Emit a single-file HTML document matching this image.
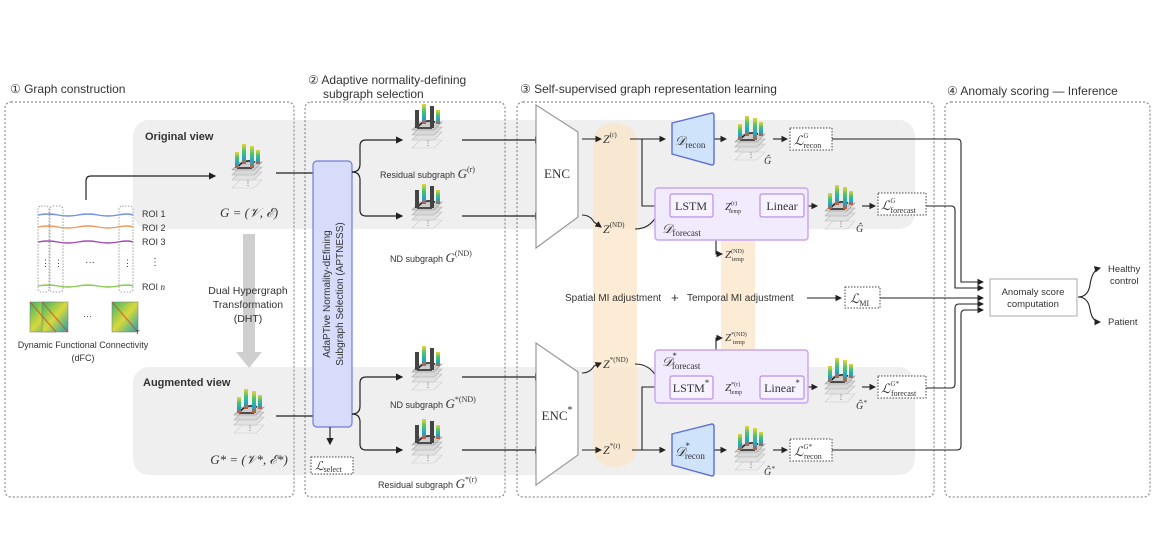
<!DOCTYPE html>
<html><head><meta charset="utf-8"><style>
html,body{margin:0;padding:0;background:#fff}
svg{display:block}
text{font-family:"Liberation Sans",sans-serif;fill:#333}
.s{font-family:"Liberation Serif",serif}
.i{font-family:"Liberation Serif",serif;font-style:italic}
</style></head><body>
<svg width="1155" height="558" viewBox="0 0 1155 558" xmlns="http://www.w3.org/2000/svg">
<defs>
<marker id="a" markerWidth="6" markerHeight="6" refX="5" refY="3" orient="auto"><path d="M0,0 L6,3 L0,6z" fill="#222"/></marker>
<linearGradient id="bar" x1="0" y1="0" x2="0" y2="1"><stop offset="0" stop-color="#e6d33a"/><stop offset=".35" stop-color="#4fc26b"/><stop offset=".7" stop-color="#1fa7c9"/><stop offset="1" stop-color="#d0562a"/></linearGradient>
<linearGradient id="mat" x1="0" y1="0" x2="1" y2="1"><stop offset="0" stop-color="#3bb56a"/><stop offset=".5" stop-color="#d9d83a"/><stop offset="1" stop-color="#1fa0b5"/></linearGradient>
<g id="gi">
<polygon points="4,30 26,30 34,22 12,22" fill="#eee" stroke="#ccc" stroke-width=".6" transform="translate(0,18)"/>
<polygon points="4,30 26,30 34,22 12,22" fill="#e2e2e2" stroke="#bbb" stroke-width=".6" transform="translate(0,10)"/>
<polygon points="4,30 26,30 34,22 12,22" fill="#d8d8d8" stroke="#aaa" stroke-width=".6" transform="translate(0,5)"/>
<polygon points="4,30 26,30 34,22 12,22" fill="#ccc" stroke="#999" stroke-width=".6"/>
<path d="M9,28 Q16,18 27,22 M9,28 L24,28" stroke="#222" stroke-width="1.5" fill="none"/>
<rect x="7" y="12" width="4" height="16" fill="url(#bar)"/>
<rect x="14" y="4" width="4" height="20" fill="url(#bar)"/>
<rect x="22" y="6" width="4" height="22" fill="url(#bar)"/>
<rect x="28" y="10" width="4" height="14" fill="url(#bar)"/>
<text x="17" y="45" font-size="6" fill="#666">⋮</text>
</g>
<g id="gk">
<polygon points="4,30 26,30 34,22 12,22" fill="#eee" stroke="#ccc" stroke-width=".6" transform="translate(0,18)"/>
<polygon points="4,30 26,30 34,22 12,22" fill="#e2e2e2" stroke="#bbb" stroke-width=".6" transform="translate(0,10)"/>
<polygon points="4,30 26,30 34,22 12,22" fill="#d8d8d8" stroke="#aaa" stroke-width=".6" transform="translate(0,5)"/>
<polygon points="4,30 26,30 34,22 12,22" fill="#ccc" stroke="#999" stroke-width=".6"/>
<path d="M9,28 Q16,18 27,22 M9,28 L24,28" stroke="#222" stroke-width="1.5" fill="none"/>
<rect x="7" y="10" width="4" height="18" fill="#444"/>
<rect x="14" y="4" width="4" height="20" fill="url(#bar)"/>
<rect x="22" y="6" width="4" height="22" fill="#444"/>
<rect x="28" y="10" width="4" height="14" fill="url(#bar)"/>
<text x="17" y="45" font-size="6" fill="#666">⋮</text>
</g>
</defs>

<!-- gray bands -->
<rect x="133" y="120" width="782" height="109" rx="16" fill="#efefef"/>
<rect x="133" y="367" width="782" height="108" rx="16" fill="#efefef"/>
<!-- orange bands -->
<rect x="593" y="123" width="44" height="344" rx="20" fill="#fbe6c8" opacity=".75"/>
<rect x="721" y="195" width="34" height="208" rx="17" fill="#fbe6c8" opacity=".75"/>

<!-- panels -->
<g fill="none" stroke="#777" stroke-dasharray="2,2" stroke-width="1">
<rect x="5" y="102" width="289" height="395" rx="6"/>
<rect x="305" y="102" width="200" height="395" rx="6"/>
<rect x="517" y="102" width="417" height="395" rx="6"/>
<rect x="945" y="102" width="205" height="395" rx="6"/>
</g>
<text x="10" y="93" font-size="12">① Graph construction</text>
<text x="308" y="84" font-size="12">② Adaptive normality-defining</text>
<text x="323" y="98" font-size="12">subgraph selection</text>
<text x="520" y="93" font-size="12">③ Self-supervised graph representation learning</text>
<text x="947" y="95" font-size="12">④ Anomaly scoring — Inference</text>

<!-- panel 1 -->
<text x="145" y="140" font-size="11" font-weight="bold" fill="#444">Original view</text>
<text x="143" y="386" font-size="11" font-weight="bold" fill="#444">Augmented view</text>
<path d="M86,200 V181 Q86,176 91,176 H215" fill="none" stroke="#222" stroke-width="1.2" marker-end="url(#a)"/>
<g stroke-width="1.4" fill="none">
<path d="M38,215 q10,-2 20,0 t20,0 t20,0 t20,0 t15,0" stroke="#6f8fe0"/>
<path d="M38,227 q10,-2 20,0 t20,0 t20,0 t20,0 t15,0" stroke="#f0995a"/>
<path d="M38,242 q10,-2 20,0 t20,0 t20,0 t20,0 t15,0" stroke="#a24cb0"/>
<path d="M38,286 q10,-2 20,0 t20,0 t20,0 t20,0 t15,0" stroke="#8ac94d"/>
</g>
<g fill="none" stroke="#888" stroke-dasharray="1.5,1.5" stroke-width=".8">
<rect x="38" y="206" width="11" height="86" rx="3"/>
<rect x="50" y="206" width="13" height="86" rx="3"/>
<rect x="119" y="206" width="14" height="86" rx="3"/>
</g>
<text x="142" y="217" font-size="9">ROI 1</text>
<text x="142" y="231" font-size="9">ROI 2</text>
<text x="142" y="245" font-size="9">ROI 3</text>
<text x="142" y="290" font-size="9">ROI <tspan class="i">n</tspan></text>
<text x="150" y="265" font-size="10">⋮</text>
<text x="85" y="265" font-size="10">···</text>
<text x="41" y="266" font-size="9">⋮</text><text x="54" y="266" font-size="9">⋮</text><text x="123" y="266" font-size="9">⋮</text>
<rect x="30" y="302" width="26" height="30" fill="url(#mat)" stroke="#777" stroke-width=".5"/>
<rect x="42" y="302" width="26" height="30" fill="url(#mat)" stroke="#777" stroke-width=".5"/>
<rect x="112" y="302" width="26" height="30" fill="url(#mat)" stroke="#777" stroke-width=".5"/>
<path d="M30,302 L56,332 M42,302 L68,332 M112,302 L138,332" stroke="#d0452a" stroke-width="1.2" opacity=".7"/>
<text x="83" y="319" font-size="9">···</text>
<text x="136" y="334" font-size="6" class="i">T</text>
<text x="83" y="348" font-size="9" text-anchor="middle">Dynamic Functional Connectivity</text>
<text x="83" y="361" font-size="9" text-anchor="middle">(dFC)</text>
<rect x="243" y="234" width="12" height="119" fill="#cfcfcf"/>
<polygon points="236,352 262,352 249,368" fill="#cfcfcf"/>
<text x="248" y="294" font-size="10.5" text-anchor="middle" fill="#444">Dual Hypergraph</text>
<text x="248" y="308" font-size="10.5" text-anchor="middle" fill="#444">Transformation</text>
<text x="248" y="322" font-size="10.5" text-anchor="middle" fill="#444">(DHT)</text>
<use href="#gi" x="228" y="140"/>
<use href="#gi" x="230" y="385"/>
<text x="249" y="217" font-size="13" class="i" text-anchor="middle">G = (𝒱, ℰ)</text>
<text x="249" y="464" font-size="13" class="i" text-anchor="middle">G* = (𝒱*, ℰ*)</text>
<line x1="276" y1="173" x2="313" y2="173" stroke="#222" stroke-width="1.2"/>
<line x1="276" y1="416" x2="313" y2="416" stroke="#222" stroke-width="1.2"/>

<!-- panel 2 -->
<rect x="313" y="161" width="39" height="266" rx="4" fill="#d6dcfa" stroke="#6f7ddc" stroke-width="1.2"/>
<text transform="translate(330,294) rotate(-90)" font-size="10" text-anchor="middle" fill="#333">AdaPTive Normality-dEfining</text>
<text transform="translate(343,294) rotate(-90)" font-size="10" text-anchor="middle" fill="#333">Subgraph Selection (APTNESS)</text>
<g fill="none" stroke="#222" stroke-width="1.2">
<path d="M352,172 Q360,172 360,164 V146 Q360,140 366,140 H402" marker-end="url(#a)"/>
<path d="M352,172 Q360,172 360,180 V210 Q360,216 366,216 H402" marker-end="url(#a)"/>
<path d="M352,414 Q360,414 360,406 V383 Q360,377 366,377 H402" marker-end="url(#a)"/>
<path d="M352,414 Q360,414 360,422 V444 Q360,450 366,450 H402" marker-end="url(#a)"/>
<path d="M330,427 V444" marker-end="url(#a)"/>
<path d="M462,140 H541" marker-end="url(#a)"/>
<path d="M462,216 H541" marker-end="url(#a)"/>
<path d="M462,377 H541" marker-end="url(#a)"/>
<path d="M462,450 H541" marker-end="url(#a)"/>
</g>
<rect x="311" y="457" width="42" height="17" fill="#fff" stroke="#444" stroke-dasharray="1.5,1.5"/>
<text x="315" y="470" font-size="12" class="i">ℒ<tspan font-size="8" font-style="normal" dy="2">select</tspan></text>
<use href="#gk" x="408" y="100"/>
<use href="#gk" x="408" y="180"/>
<use href="#gk" x="408" y="342"/>
<use href="#gk" x="408" y="415"/>
<text x="380" y="178" font-size="9">Residual subgraph <tspan class="i" font-size="13">G</tspan><tspan class="s" font-size="8" dy="-6">(r)</tspan></text>
<text x="390" y="262" font-size="9">ND subgraph <tspan class="i" font-size="13">G</tspan><tspan class="s" font-size="8" dy="-6">(ND)</tspan></text>
<text x="390" y="408" font-size="9">ND subgraph <tspan class="i" font-size="13">G</tspan><tspan class="s" font-size="8" dy="-6">*(ND)</tspan></text>
<text x="378" y="488" font-size="9">Residual subgraph <tspan class="i" font-size="13">G</tspan><tspan class="s" font-size="8" dy="-6">*(r)</tspan></text>

<!-- panel 3: encoders -->
<path d="M536,105 L578,132 V217 L536,248 Z" fill="#fff" stroke="#999" stroke-width="1.2"/>
<path d="M536,343 L578,372 V455 L536,485 Z" fill="#fff" stroke="#999" stroke-width="1.2"/>
<text x="557" y="178" font-size="13" class="s" text-anchor="middle">ENC</text>
<text x="557" y="420" font-size="13" class="s" text-anchor="middle">ENC<tspan font-size="10" dy="-7">*</tspan></text>
<g fill="none" stroke="#222" stroke-width="1.1">
<path d="M582,139 H601" marker-end="url(#a)"/>
<path d="M582,215 Q590,215 594,222 L601,227" marker-end="url(#a)"/>
<path d="M582,373 Q590,373 594,366 L601,363" marker-end="url(#a)"/>
<path d="M582,450 H601" marker-end="url(#a)"/>
<path d="M630,139 H665" marker-end="url(#a)"/>
<path d="M642,139 V206 H667" marker-end="url(#a)"/>
<path d="M635,229 Q650,229 657,215 L667,210" marker-end="url(#a)"/>
<path d="M635,364 Q650,364 657,378 L667,383" marker-end="url(#a)"/>
<path d="M632,450 H665" marker-end="url(#a)"/>
<path d="M642,450 V387 H667" marker-end="url(#a)"/>
<path d="M713,206 H721" marker-end="url(#a)"/>
<path d="M751,206 H758" marker-end="url(#a)"/>
<path d="M713,387 H721" marker-end="url(#a)"/>
<path d="M751,387 H758" marker-end="url(#a)"/>
<path d="M716,206 V254 H722" marker-end="url(#a)"/>
<path d="M716,387 V338 H722" marker-end="url(#a)"/>
<path d="M713,139 H726" marker-end="url(#a)"/>
<path d="M713,450 H726" marker-end="url(#a)"/>
<path d="M804,206 H817" marker-end="url(#a)"/>
<path d="M804,387 H817" marker-end="url(#a)"/>
<path d="M773,139 H787" marker-end="url(#a)"/>
<path d="M773,450 H787" marker-end="url(#a)"/>
<path d="M862,206 H875" marker-end="url(#a)"/>
<path d="M862,387 H875" marker-end="url(#a)"/>
<path d="M807,298 H841" marker-end="url(#a)"/>
</g>
<text x="603" y="143" font-size="12" class="i">Z<tspan font-size="7" font-style="normal" dy="-6">(r)</tspan></text>
<text x="603" y="233" font-size="12" class="i">Z<tspan font-size="7" font-style="normal" dy="-6">(ND)</tspan></text>
<text x="603" y="368" font-size="12" class="i">Z<tspan font-size="7" font-style="normal" dy="-6">*(ND)</tspan></text>
<text x="603" y="454" font-size="12" class="i">Z<tspan font-size="7" font-style="normal" dy="-6">*(r)</tspan></text>

<!-- recon decoders -->
<path d="M672,123 L712,113 Q714,113 714,116 V162 Q714,165 712,165 L672,154 Z" fill="#cfe3fa" stroke="#5b6fd6" stroke-width="1.4"/>
<path d="M672,434 L712,424 Q714,424 714,427 V473 Q714,476 712,476 L672,465 Z" fill="#cfe3fa" stroke="#5b6fd6" stroke-width="1.4"/>
<text x="675" y="145" font-size="13" class="i">𝒟<tspan font-size="9" font-style="normal" dy="3">recon</tspan></text>
<text x="675" y="456" font-size="13" class="i">𝒟<tspan font-size="9" font-style="normal" dy="-7">*</tspan><tspan font-size="9" font-style="normal" dx="-5" dy="10">recon</tspan></text>

<!-- forecast boxes -->
<rect x="655" y="188" width="153" height="52" rx="3" fill="#f2eafd" stroke="#c6a6f2" stroke-width="1.4"/>
<rect x="655" y="350" width="153" height="53" rx="3" fill="#f2eafd" stroke="#c6a6f2" stroke-width="1.4"/>
<rect x="670" y="194" width="43" height="23" rx="2" fill="#f7f2ff" stroke="#b790ee" stroke-width="1.2"/>
<rect x="760" y="194" width="44" height="23" rx="2" fill="#f7f2ff" stroke="#b790ee" stroke-width="1.2"/>
<rect x="670" y="376" width="43" height="23" rx="2" fill="#f7f2ff" stroke="#b790ee" stroke-width="1.2"/>
<rect x="760" y="376" width="44" height="23" rx="2" fill="#f7f2ff" stroke="#b790ee" stroke-width="1.2"/>
<text x="691" y="210" font-size="12" class="s" text-anchor="middle">LSTM</text>
<text x="782" y="210" font-size="12" class="s" text-anchor="middle">Linear</text>
<text x="691" y="392" font-size="12" class="s" text-anchor="middle">LSTM<tspan font-size="9" dy="-6">*</tspan></text>
<text x="782" y="392" font-size="12" class="s" text-anchor="middle">Linear<tspan font-size="9" dy="-6">*</tspan></text>
<text x="662" y="233" font-size="13" class="i">𝒟<tspan font-size="9" font-style="normal" dy="3">forecast</tspan></text>
<text x="662" y="366" font-size="13" class="i">𝒟<tspan font-size="9" font-style="normal" dy="-7">*</tspan><tspan font-size="9" font-style="normal" dx="-5" dy="10">forecast</tspan></text>
<text x="725" y="210" font-size="11" class="i">Z<tspan font-size="6" font-style="normal" dy="-5">(r)</tspan><tspan font-size="6" font-style="normal" dx="-8" dy="8">temp</tspan></text>
<text x="725" y="391" font-size="11" class="i">Z<tspan font-size="6" font-style="normal" dy="-5">*(r)</tspan><tspan font-size="6" font-style="normal" dx="-10" dy="8">temp</tspan></text>
<text x="725" y="258" font-size="11" class="i">Z<tspan font-size="6" font-style="normal" dy="-5">(ND)</tspan><tspan font-size="6" font-style="normal" dx="-12" dy="8">temp</tspan></text>
<text x="725" y="341" font-size="11" class="i">Z<tspan font-size="6" font-style="normal" dy="-5">*(ND)</tspan><tspan font-size="6" font-style="normal" dx="-14" dy="8">temp</tspan></text>

<!-- output graph icons -->
<use href="#gi" x="731" y="112"/>
<use href="#gi" x="821" y="181"/>
<use href="#gi" x="821" y="354"/>
<use href="#gi" x="731" y="422"/>
<text x="764" y="164" font-size="10" class="i">Ĝ</text>
<text x="856" y="232" font-size="10" class="i">Ĝ</text>
<text x="856" y="409" font-size="10" class="i">Ĝ<tspan font-size="7" dy="-4">*</tspan></text>
<text x="764" y="475" font-size="10" class="i">Ĝ<tspan font-size="7" dy="-4">*</tspan></text>

<!-- losses -->
<g fill="#fff" stroke="#444" stroke-dasharray="1.5,1.5">
<rect x="790" y="128" width="42" height="22"/>
<rect x="878" y="193" width="48" height="22"/>
<rect x="845" y="287" width="35" height="21"/>
<rect x="878" y="376" width="48" height="22"/>
<rect x="790" y="439" width="42" height="22"/>
</g>
<text x="794" y="145" font-size="13" class="i">ℒ<tspan font-size="7" dy="-7">G</tspan><tspan font-size="8" font-style="normal" dx="-5" dy="10">recon</tspan></text>
<text x="881" y="210" font-size="13" class="i">ℒ<tspan font-size="7" dy="-7">G</tspan><tspan font-size="8" font-style="normal" dx="-5" dy="10">forecast</tspan></text>
<text x="850" y="303" font-size="13" class="i">ℒ<tspan font-size="8" font-style="normal" dy="3">MI</tspan></text>
<text x="881" y="393" font-size="13" class="i">ℒ<tspan font-size="7" dy="-7">G*</tspan><tspan font-size="8" font-style="normal" dx="-8" dy="10">forecast</tspan></text>
<text x="794" y="456" font-size="13" class="i">ℒ<tspan font-size="7" dy="-7">G*</tspan><tspan font-size="8" font-style="normal" dx="-8" dy="10">recon</tspan></text>
<text x="565" y="301" font-size="10" fill="#444">Spatial MI adjustment</text>
<text x="671" y="302" font-size="13" fill="#444">+</text>
<text x="687" y="301" font-size="10" fill="#444">Temporal MI adjustment</text>

<!-- to panel 4 -->
<g fill="none" stroke="#222" stroke-width="1.1">
<path d="M832,139 H957 Q961,139 961,143 V282 H983" marker-end="url(#a)"/>
<path d="M926,206 H951 Q955,206 955,210 V288 H983" marker-end="url(#a)"/>
<path d="M880,298 H983" marker-end="url(#a)"/>
<path d="M926,388 H951 Q955,388 955,384 V308 Q955,304 959,304 H983" marker-end="url(#a)"/>
<path d="M832,450 H957 Q961,450 961,446 V314 Q961,310 965,310 H983" marker-end="url(#a)"/>
<path d="M1078,297 Q1088,297 1090,285 Q1092,270 1100,268" marker-end="url(#a)"/>
<path d="M1078,297 Q1088,297 1090,309 Q1092,322 1100,322" marker-end="url(#a)"/>
</g>
<rect x="990" y="279" width="87" height="37" fill="#fff" stroke="#aaa" stroke-width="1"/>
<text x="1033" y="295" font-size="9.5" text-anchor="middle">Anomaly score</text>
<text x="1033" y="307" font-size="9.5" text-anchor="middle">computation</text>
<text x="1108" y="272" font-size="9.5">Healthy</text>
<text x="1110" y="284" font-size="9.5">control</text>
<text x="1108" y="325" font-size="9.5">Patient</text>
</svg>
</body></html>
